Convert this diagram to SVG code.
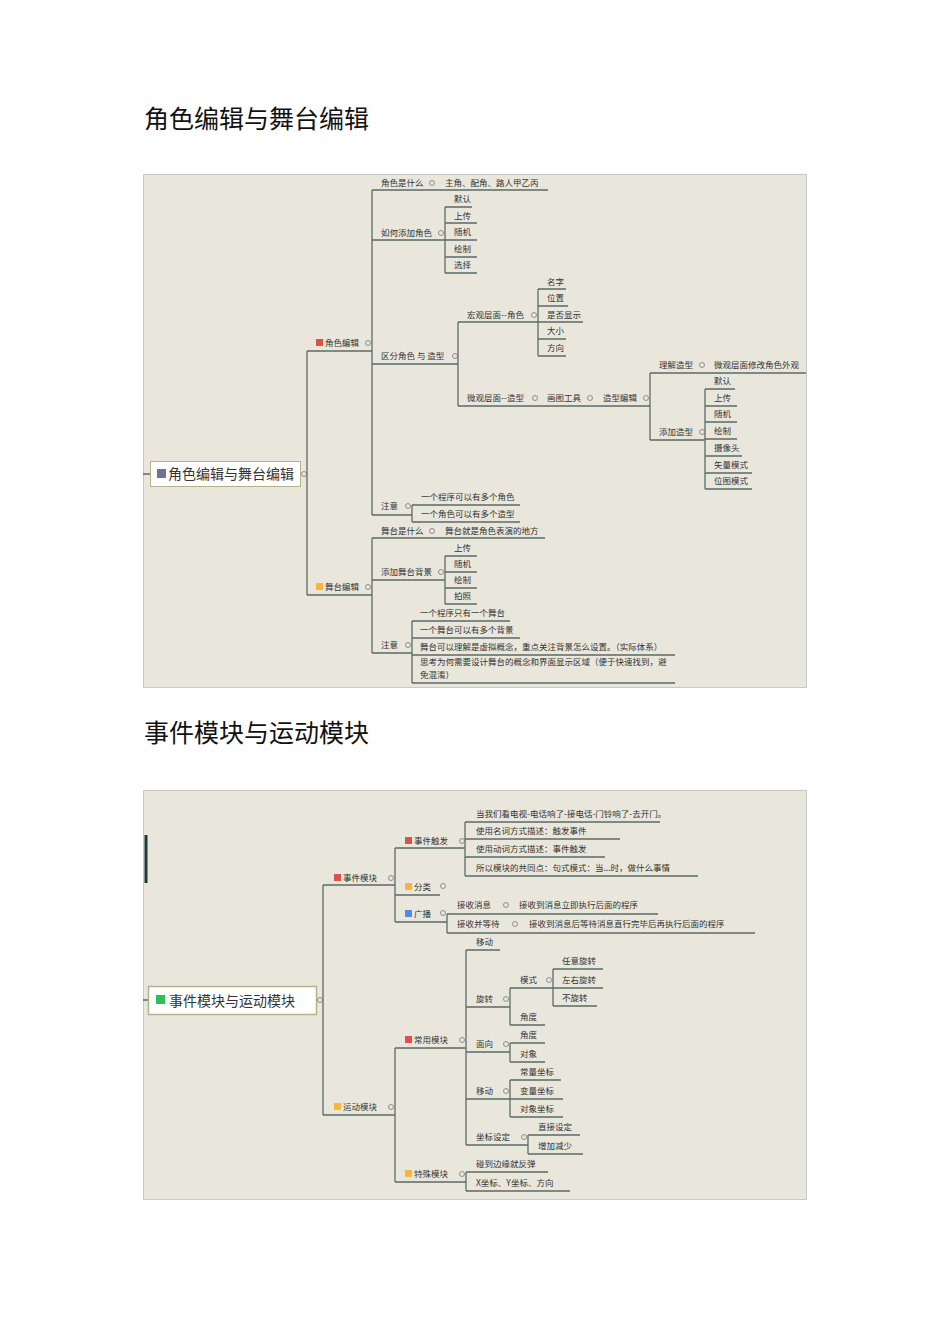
<svg xmlns="http://www.w3.org/2000/svg" width="950" height="1344" viewBox="0 0 950 1344">
<style>
.h{font:25px "Noto Sans CJK SC",sans-serif;fill:#111}
.t{font:8.5px "Noto Sans CJK SC",sans-serif;fill:#333}
.r{font:14px "Noto Sans CJK SC",sans-serif;fill:#333}
.c{fill:none;stroke:#777;stroke-width:0.8}
.l{fill:none;stroke:#5c6b67;stroke-width:1.3}
</style>
<rect width="950" height="1344" fill="#fff"/>
<text class="h" x="144" y="128">角色编辑与舞台编辑</text>
<text class="h" x="144" y="742">事件模块与运动模块</text>
<rect x="143.5" y="174.5" width="663" height="513" fill="#e9e7dc" stroke="#c8c8c8"/>
<rect x="143.5" y="790.5" width="663" height="409" fill="#e9e7dc" stroke="#c8c8c8"/>
<g id="connectors" class="l">
<path d="M143 474H150M307 351V595M307 351H372M307 595H372M372 190V515M372 190H548M372 240H445M445 207V273M445 207H472M445 223H477M445 240H477M445 257H477M445 273H477M372 364H458M458 322V406M458 322H538M538 289V356M538 289H566M538 306H568M538 322H583M538 339H566M538 356H566M458 406H650M650 373V440M650 373H806M650 440H705M705 389V489M705 389H735M705 406H737M705 422H737M705 439H737M705 456H742M705 473H752M705 489H752M372 515H412M412 505V522M412 505H520M412 522H520M372 538V653M372 538H545M372 580H445M445 556V604M445 556H477M445 572H477M445 588H477M445 604H477M372 653H412M412 621V683M412 621H510M412 638H520M412 655H675M412 683H675"/>
<path d="M143 1000H148M323 885V1115M323 885H395M323 1115H395M395 848V922M395 848H465M465 822V876M465 822H660M465 839H620M465 857H605M465 876H698M395 895H440M395 922H447M447 914V933M447 914H658M447 933H755M395 1048V1182M395 1048H466M466 950V1145M466 950H500M466 1007H510M510 988V1025M510 988H553M553 969V1006M553 969H603M553 988H603M553 1006H597M510 1025H545M466 1052H510M510 1043V1062M510 1043H545M510 1062H545M466 1099H510M510 1080V1117M510 1080H561M510 1099H563M510 1117H563M466 1145H528M528 1135V1154M528 1135H580M528 1154H583M395 1182H466M466 1172V1191M466 1172H548M466 1191H570"/>
<path d="M146 835V883" stroke="#1d3a3a" stroke-width="3"/>
</g>
<g id="root1"><rect x="150.5" y="461.5" width="150" height="25" fill="#fff" stroke="#b8b08a"/><rect x="157" y="469" width="9" height="9" fill="#6c7693"/><text class="r" x="168" y="479">角色编辑与舞台编辑</text><circle class="c" cx="304" cy="474" r="2.5"/></g>
<g id="n-jsbj"><rect x="316" y="339" width="7" height="7" fill="#e0504a"/><text class="t" x="325" y="346">角色编辑</text><circle class="c" cx="368" cy="343" r="2.5"/></g>
<g id="n-wtbj"><rect x="316" y="583" width="7" height="7" fill="#f5b63a"/><text class="t" x="325" y="590">舞台编辑</text><circle class="c" cx="368" cy="587" r="2.5"/></g>
<g id="n1"><text class="t" x="381" y="186">角色是什么</text><circle class="c" cx="432" cy="183" r="2.5"/><text class="t" x="445" y="186">主角、配角、路人甲乙丙</text></g>
<g id="n2"><text class="t" x="381" y="236">如何添加角色</text><circle class="c" cx="441" cy="233" r="2.5"/>
<text class="t" x="454" y="202">默认</text><text class="t" x="454" y="219">上传</text><text class="t" x="454" y="235">随机</text><text class="t" x="454" y="252">绘制</text><text class="t" x="454" y="268">选择</text></g>
<g id="n3"><text class="t" x="381" y="359">区分角色 与 造型</text><circle class="c" cx="455" cy="356" r="2.5"/>
<text class="t" x="467" y="318">宏观层面--角色</text><circle class="c" cx="534" cy="315" r="2.5"/>
<text class="t" x="547" y="285">名字</text><text class="t" x="547" y="301">位置</text><text class="t" x="547" y="318">是否显示</text><text class="t" x="547" y="334">大小</text><text class="t" x="547" y="351">方向</text>
<text class="t" x="467" y="401">微观层面--造型</text><circle class="c" cx="535" cy="398" r="2.5"/><text class="t" x="547" y="401">画图工具</text><circle class="c" cx="590" cy="398" r="2.5"/><text class="t" x="603" y="401">造型编辑</text><circle class="c" cx="646" cy="398" r="2.5"/>
<text class="t" x="659" y="368">理解造型</text><circle class="c" cx="702" cy="365" r="2.5"/><text class="t" x="714" y="368">微观层面修改角色外观</text>
<text class="t" x="659" y="435">添加造型</text><circle class="c" cx="702" cy="432" r="2.5"/>
<text class="t" x="714" y="384">默认</text><text class="t" x="714" y="401">上传</text><text class="t" x="714" y="417">随机</text><text class="t" x="714" y="434">绘制</text><text class="t" x="714" y="451">摄像头</text><text class="t" x="714" y="468">矢量模式</text><text class="t" x="714" y="484">位图模式</text></g>
<g id="n4"><text class="t" x="381" y="509">注意</text><circle class="c" cx="408" cy="506" r="2.5"/><text class="t" x="421" y="500">一个程序可以有多个角色</text><text class="t" x="421" y="517">一个角色可以有多个造型</text></g>
<g id="n5"><text class="t" x="381" y="534">舞台是什么</text><circle class="c" cx="432" cy="531" r="2.5"/><text class="t" x="445" y="534">舞台就是角色表演的地方</text></g>
<g id="n6"><text class="t" x="381" y="575">添加舞台背景</text><circle class="c" cx="441" cy="572" r="2.5"/><text class="t" x="454" y="551">上传</text><text class="t" x="454" y="567">随机</text><text class="t" x="454" y="583">绘制</text><text class="t" x="454" y="599">拍照</text></g>
<g id="n7"><text class="t" x="381" y="648">注意</text><circle class="c" cx="408" cy="645" r="2.5"/><text class="t" x="420" y="616">一个程序只有一个舞台</text><text class="t" x="420" y="633">一个舞台可以有多个背景</text><text class="t" x="420" y="650">舞台可以理解是虚拟概念，重点关注背景怎么设置。（实际体系）</text><text class="t" x="420" y="665">思考为何需要设计舞台的概念和界面显示区域（便于快速找到，避</text><text class="t" x="420" y="678">免混淆）</text></g>
<g id="root2"><rect x="148.5" y="986.5" width="168" height="28" fill="#fff" stroke="#b8b08a" stroke-width="1.5"/><rect x="156" y="995" width="9" height="9" fill="#2fbf5a"/><text class="r" x="169" y="1006">事件模块与运动模块</text><circle class="c" cx="320" cy="1000" r="2.5"/></g>
<g id="m1"><rect x="334" y="874" width="7" height="7" fill="#e0504a"/><text class="t" x="343" y="881">事件模块</text><circle class="c" cx="391" cy="878" r="2.5"/>
<rect x="405" y="837" width="7" height="7" fill="#e0504a"/><text class="t" x="414" y="844">事件触发</text><circle class="c" cx="462" cy="841" r="2.5"/>
<text class="t" x="476" y="817">当我们看电视-电话响了-接电话-门铃响了-去开门。</text><text class="t" x="476" y="834">使用名词方式描述：触发事件</text><text class="t" x="476" y="852">使用动词方式描述：事件触发</text><text class="t" x="476" y="871">所以模块的共同点：句式模式：当...时，做什么事情</text>
<rect x="405" y="883" width="7" height="7" fill="#f5b63a"/><text class="t" x="414" y="890">分类</text><circle class="c" cx="443" cy="886" r="2.5"/>
<rect x="405" y="910" width="7" height="7" fill="#4a8ee0"/><text class="t" x="414" y="917">广播</text><circle class="c" cx="443" cy="913" r="2.5"/>
<text class="t" x="457" y="908">接收消息</text><circle class="c" cx="506" cy="905" r="2.5"/><text class="t" x="519" y="908">接收到消息立即执行后面的程序</text>
<text class="t" x="457" y="927">接收并等待</text><circle class="c" cx="515" cy="924" r="2.5"/><text class="t" x="529" y="927">接收到消息后等待消息直行完毕后再执行后面的程序</text></g>
<g id="m2"><rect x="334" y="1103" width="7" height="7" fill="#f5b63a"/><text class="t" x="343" y="1110">运动模块</text><circle class="c" cx="391" cy="1107" r="2.5"/>
<rect x="405" y="1036" width="7" height="7" fill="#e0504a"/><text class="t" x="414" y="1043">常用模块</text><circle class="c" cx="462" cy="1040" r="2.5"/>
<text class="t" x="476" y="945">移动</text>
<text class="t" x="476" y="1002">旋转</text><circle class="c" cx="506" cy="999" r="2.5"/>
<text class="t" x="520" y="983">模式</text><circle class="c" cx="549" cy="980" r="2.5"/><text class="t" x="562" y="964">任意旋转</text><text class="t" x="562" y="983">左右旋转</text><text class="t" x="562" y="1001">不旋转</text>
<text class="t" x="520" y="1020">角度</text>
<text class="t" x="476" y="1047">面向</text><circle class="c" cx="506" cy="1044" r="2.5"/><text class="t" x="520" y="1038">角度</text><text class="t" x="520" y="1057">对象</text>
<text class="t" x="476" y="1094">移动</text><circle class="c" cx="506" cy="1091" r="2.5"/><text class="t" x="520" y="1075">常量坐标</text><text class="t" x="520" y="1094">变量坐标</text><text class="t" x="520" y="1112">对象坐标</text>
<text class="t" x="476" y="1140">坐标设定</text><circle class="c" cx="524" cy="1137" r="2.5"/><text class="t" x="538" y="1130">直接设定</text><text class="t" x="538" y="1149">增加减少</text>
<rect x="405" y="1170" width="7" height="7" fill="#f5b63a"/><text class="t" x="414" y="1177">特殊模块</text><circle class="c" cx="462" cy="1174" r="2.5"/>
<text class="t" x="476" y="1167">碰到边缘就反弹</text><text class="t" x="476" y="1186">X坐标、Y坐标、方向</text></g>
</svg>
